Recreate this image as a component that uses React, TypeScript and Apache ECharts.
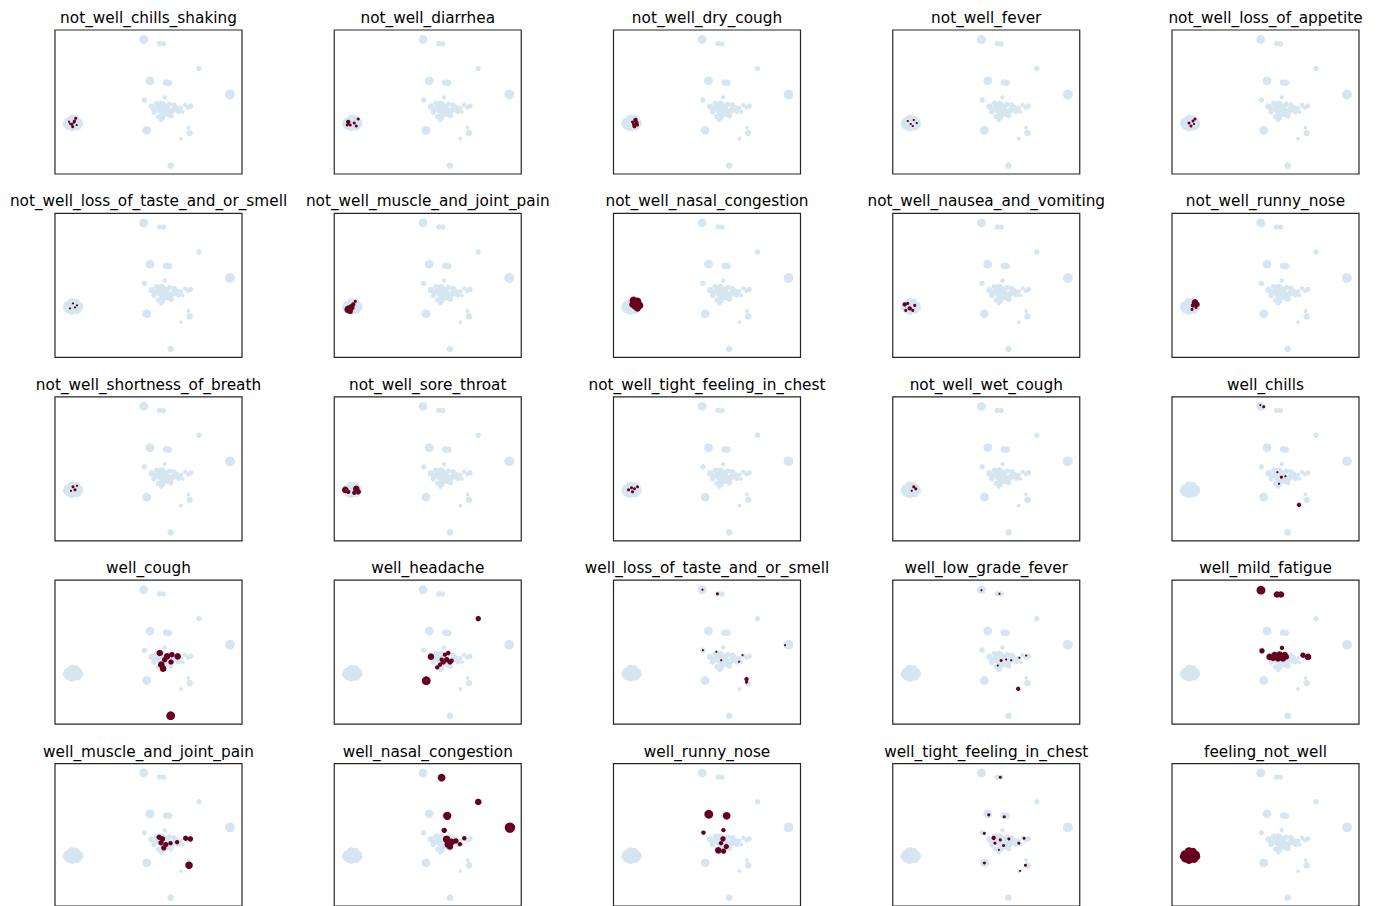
import React, { useEffect, useRef } from "react";
import * as echarts from "echarts";

// Panel titles, row by row
const panelTitles: string[] = [
  "not_well_chills_shaking",
  "not_well_diarrhea",
  "not_well_dry_cough",
  "not_well_fever",
  "not_well_loss_of_appetite",
  "not_well_loss_of_taste_and_or_smell",
  "not_well_muscle_and_joint_pain",
  "not_well_nasal_congestion",
  "not_well_nausea_and_vomiting",
  "not_well_runny_nose",
  "not_well_shortness_of_breath",
  "not_well_sore_throat",
  "not_well_tight_feeling_in_chest",
  "not_well_wet_cough",
  "well_chills",
  "well_cough",
  "well_headache",
  "well_loss_of_taste_and_or_smell",
  "well_low_grade_fever",
  "well_mild_fatigue",
  "well_muscle_and_joint_pain",
  "well_nasal_congestion",
  "well_runny_nose",
  "well_tight_feeling_in_chest",
  "feeling_not_well",
];

// Embedding of all groups: [umap1, umap2, n]
const embedding: number[][] = [
  [8.87, 0.95, 16],
  [10.45, 1.36, 6],
  [10.85, 1.38, 6],
  [14.4, 3.85, 6],
  [9.5, 5.08, 16],
  [11.1, 5.25, 9],
  [11.4, 5.28, 9],
  [17.5, 6.45, 20],
  [8.94, 7.0, 6],
  [10.97, 6.73, 4],
  [9.67, 7.66, 9],
  [10.17, 7.33, 6],
  [10.67, 7.43, 12],
  [11.0, 7.76, 16],
  [11.44, 7.43, 6],
  [10.5, 8.03, 9],
  [10.84, 8.36, 12],
  [10.34, 8.66, 6],
  [10.77, 8.76, 6],
  [11.57, 8.2, 9],
  [12.17, 7.76, 6],
  [12.34, 8.16, 6],
  [12.77, 8.2, 3],
  [13.0, 7.5, 4],
  [13.57, 7.6, 6],
  [11.8, 8.0, 9],
  [11.2, 8.0, 9],
  [10.0, 7.9, 6],
  [10.4, 7.6, 9],
  [11.3, 8.45, 6],
  [12.6, 7.8, 4],
  [13.3, 7.75, 4],
  [9.9, 8.2, 6],
  [11.6, 8.6, 6],
  [11.9, 7.5, 6],
  [10.6, 9.0, 4],
  [1.3, 9.2, 16],
  [1.7, 8.9, 16],
  [2.1, 8.9, 12],
  [2.4, 9.2, 12],
  [2.2, 9.6, 16],
  [1.7, 9.7, 16],
  [1.3, 9.6, 12],
  [1.8, 9.3, 16],
  [1.1, 9.4, 9],
  [2.5, 9.4, 9],
  [9.17, 10.03, 16],
  [13.47, 10.3, 9],
  [13.34, 9.76, 3],
  [12.6, 10.87, 3],
  [11.57, 13.56, 9],
];

// Groups reporting each symptom: [umap1, umap2, n]
const chillsShaking = [[2.07, 8.83, 2], [1.95, 9.1, 2], [1.9, 9.23, 2], [1.67, 9.43, 2], [1.5, 9.37, 1], [1.77, 9.67, 2], [2.17, 9.5, 1], [1.4, 9.17, 1]];
const diarrhea = [[1.4, 9.2, 4], [1.6, 9.5, 2], [2.0, 9.3, 2], [2.4, 8.9, 2], [2.2, 9.6, 2], [1.3, 9.5, 2]];
const dryCough = [[2.2, 9.0, 4], [2.3, 9.3, 4], [2.1, 9.6, 4], [2.4, 9.5, 2], [1.9, 9.2, 2], [2.0, 9.4, 2]];
const fever = [[1.5, 9.1, 1], [1.8, 9.4, 1], [2.1, 9.0, 1], [2.0, 9.6, 1], [2.4, 9.3, 1]];
const lossOfAppetite = [[1.7, 9.3, 2], [2.1, 9.1, 2], [2.3, 8.9, 2], [1.9, 9.6, 2], [2.2, 9.4, 1]];
const nwLossOfTaste = [[1.8, 9.0, 1], [2.0, 9.4, 1], [1.5, 9.5, 1], [2.2, 9.2, 1]];
const nwMuscleJoint = [[1.4, 9.6, 12], [1.7, 9.4, 9], [1.9, 9.1, 4], [2.1, 8.8, 2], [1.6, 9.8, 6]];
const nwNasal = [[2.0, 8.7, 12], [2.4, 8.8, 12], [2.2, 9.2, 16], [2.6, 9.2, 12], [2.4, 9.5, 9], [1.9, 9.1, 9]];
const nausea = [[1.2, 9.1, 4], [1.5, 9.0, 2], [1.7, 9.5, 4], [2.0, 9.7, 2], [2.2, 9.2, 2], [1.3, 9.7, 2]];
const nwRunny = [[2.3, 8.9, 9], [2.5, 9.1, 6], [2.1, 9.2, 4], [2.0, 9.6, 2], [2.4, 9.4, 2]];
const shortness = [[1.8, 9.0, 2], [2.0, 9.3, 2], [1.6, 9.4, 1], [2.2, 8.9, 1]];
const soreThroat = [[1.1, 9.3, 9], [1.4, 9.5, 4], [2.2, 9.2, 9], [2.4, 9.5, 6], [2.0, 9.6, 4]];
const nwTight = [[1.5, 9.3, 2], [1.8, 9.1, 2], [2.1, 9.2, 2], [2.4, 9.0, 2], [1.9, 9.5, 2]];
const wetCough = [[2.1, 9.0, 2], [2.3, 9.2, 2], [1.9, 9.4, 1]];
const wChills = [[12.7, 10.8, 4], [9.17, 1.0, 2], [8.83, 0.83, 1], [10.94, 8.04, 2], [10.7, 8.7, 1], [11.34, 7.94, 1], [10.54, 7.54, 1]];
const wCough = [[10.48, 7.28, 9], [11.21, 7.61, 9], [12.27, 7.61, 9], [11.6, 8.18, 6], [10.63, 8.45, 9], [10.82, 8.85, 9], [10.97, 7.95, 6], [11.69, 7.45, 6], [11.57, 13.55, 16]];
const wHeadache = [[14.4, 3.85, 6], [9.67, 7.65, 9], [9.2, 10.05, 16], [10.57, 8.45, 4], [10.3, 8.72, 4], [10.9, 8.18, 6], [11.24, 7.95, 6], [11.57, 8.18, 6], [11.74, 8.05, 4], [11.07, 7.45, 4], [11.4, 7.28, 4], [10.74, 7.95, 4]];
const wLossOfTaste = [[10.39, 1.36, 2], [8.9, 0.95, 1], [13.3, 9.9, 4], [13.3, 10.2, 2], [17.15, 6.5, 1], [10.29, 7.15, 1], [10.77, 8.0, 1], [12.9, 7.5, 1], [12.56, 8.15, 1], [8.94, 7.0, 1]];
const wLowFever = [[12.54, 10.86, 4], [10.84, 8.03, 2], [10.5, 8.53, 1], [11.34, 7.93, 1], [11.84, 8.0, 1], [12.67, 7.76, 1], [13.34, 7.53, 1], [8.87, 1.0, 1], [10.67, 1.36, 1]];
const wFatigue = [[8.9, 1.0, 16], [10.5, 1.43, 9], [10.9, 1.43, 9], [9.0, 7.07, 6], [11.0, 6.77, 4], [9.77, 7.67, 9], [10.27, 7.5, 9], [10.77, 7.43, 9], [11.27, 7.5, 9], [10.6, 7.83, 9], [11.1, 7.83, 9], [10.1, 7.83, 6], [11.44, 7.67, 6], [13.1, 7.5, 6], [13.6, 7.67, 9]];
const wMuscleJoint = [[10.75, 7.62, 6], [11.08, 8.18, 6], [10.88, 8.52, 6], [11.55, 8.05, 4], [12.21, 7.95, 4], [13.07, 7.55, 6], [13.54, 7.62, 6], [13.4, 10.28, 12], [10.42, 7.45, 6], [10.6, 8.0, 6]];
const wNasal = [[10.74, 1.42, 12], [14.4, 3.88, 9], [11.3, 5.28, 14], [17.57, 6.48, 22], [11.0, 6.75, 6], [11.24, 7.65, 12], [11.4, 8.15, 12], [11.74, 7.92, 9], [12.17, 7.82, 6], [12.57, 8.15, 4], [13.0, 7.55, 4], [11.57, 8.38, 9]];
const wRunny = [[9.53, 5.12, 16], [11.32, 5.28, 12], [10.99, 6.72, 4], [9.0, 6.98, 4], [10.95, 7.62, 6], [10.75, 8.05, 4], [11.28, 8.38, 6], [10.48, 8.78, 9], [11.01, 8.85, 6]];
const wTight = [[10.75, 1.38, 2], [9.6, 5.18, 2], [11.15, 5.38, 2], [9.16, 7.05, 2], [10.09, 7.52, 4], [10.75, 7.72, 2], [11.61, 7.62, 2], [12.61, 8.05, 2], [13.14, 7.55, 2], [11.08, 8.28, 2], [10.62, 8.72, 1], [9.16, 10.05, 2], [13.27, 10.28, 2], [12.74, 10.85, 1], [10.22, 8.05, 2]];
const feelingNotWell = [[1.3, 9.2, 16], [1.7, 8.9, 16], [2.1, 8.9, 12], [2.4, 9.2, 12], [2.2, 9.6, 16], [1.7, 9.7, 16], [1.3, 9.6, 12], [1.8, 9.3, 16], [1.1, 9.4, 9], [2.5, 9.4, 9]];

const panelHighlights: number[][][] = [
  chillsShaking, diarrhea, dryCough, fever, lossOfAppetite,
  nwLossOfTaste, nwMuscleJoint, nwNasal, nausea, nwRunny,
  shortness, soreThroat, nwTight, wetCough, wChills,
  wCough, wHeadache, wLossOfTaste, wLowFever, wFatigue,
  wMuscleJoint, wNasal, wRunny, wTight, feelingNotWell,
];

const X_RANGE = [0, 18.7];
const Y_RANGE = [0, 14.4];

const COLS = 5;
const PANEL_W = 187;
const PANEL_H = 144;
const LEFT0 = 55;
const TOP0 = 30;
const COL_STEP = 279.25;
const ROW_STEP = 183.4;

const BASE_COLOR = "#d6e6f1";
const HIGH_COLOR = "#67001f";

const markerSize = (v: number[]) => Math.sqrt(v[2]) * 2.2;

export default function App() {
  const ref = useRef<HTMLDivElement>(null);

  useEffect(() => {
    document.body.style.margin = "0";
    const chart = echarts.init(ref.current!, null, { renderer: "svg" });

    const grid: any[] = [];
    const xAxis: any[] = [];
    const yAxis: any[] = [];
    const series: any[] = [];
    const graphic: any[] = [];

    panelTitles.forEach((title, i) => {
      const col = i % COLS;
      const row = Math.floor(i / COLS);
      const left = LEFT0 + col * COL_STEP;
      const top = TOP0 + row * ROW_STEP;
      grid.push({
        left,
        top,
        width: PANEL_W,
        height: PANEL_H,
        show: true,
        backgroundColor: "#ffffff",
        borderColor: "#262626",
        borderWidth: 1.2,
      });
      xAxis.push({ gridIndex: i, type: "value", min: X_RANGE[0], max: X_RANGE[1], show: false });
      yAxis.push({ gridIndex: i, type: "value", min: Y_RANGE[0], max: Y_RANGE[1], inverse: true, show: false });
      series.push({
        type: "scatter",
        xAxisIndex: i,
        yAxisIndex: i,
        data: embedding,
        symbolSize: markerSize,
        itemStyle: { color: BASE_COLOR, opacity: 1 },
        silent: true,
        z: 1,
      });
      series.push({
        type: "scatter",
        xAxisIndex: i,
        yAxisIndex: i,
        data: panelHighlights[i],
        symbolSize: markerSize,
        itemStyle: { color: HIGH_COLOR, opacity: 1 },
        silent: true,
        z: 2,
      });
      graphic.push({
        type: "text",
        x: left + PANEL_W / 2,
        y: top - 12,
        style: {
          text: title,
          fill: "#000000",
          font: '15.3px "DejaVu Sans"',
          align: "center",
          verticalAlign: "middle",
        },
      });
    });

    chart.setOption({
      animation: false,
      backgroundColor: "#ffffff",
      grid,
      xAxis,
      yAxis,
      series,
      graphic,
    });

    return () => chart.dispose();
  }, []);

  return (
    <div
      ref={ref}
      style={{ position: "absolute", left: 0, top: 0, width: 1381, height: 906, overflow: "hidden" }}
    />
  );
}
